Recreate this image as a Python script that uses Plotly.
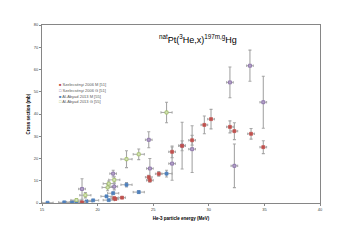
import plotly.graph_objects as go

# Szel. 2006 M [51]
szel_m_x = [18.6, 21.5, 21.6, 22.2, 24.6, 24.7, 25.5, 26.7, 27.6, 28.5, 29.6, 30.2, 31.9, 32.3, 33.8, 34.9]
szel_m_y = [0.3, 2.2, 1.8, 2.4, 11.6, 10.2, 13.1, 23.0, 25.7, 28.2, 35.1, 37.7, 34.2, 32.3, 31.1, 25.1]
szel_m_err = [0.2, 0.4, 0.3, 0.4, 0.9, 0.8, 1.0, 2.6, 2.2, 2.2, 4.0, 4.4, 2.7, 3.8, 2.4, 2.9]
szel_m_xerr = [0.3] * len(szel_m_x)

# Szel. 2006 G [51]
szel_g_x = [18.6, 21.4, 21.5, 24.6, 24.7, 26.7, 27.6, 28.5, 31.9, 32.3, 33.7, 34.9]
szel_g_y = [6.3, 13.2, 7.4, 28.4, 15.5, 17.7, 25.8, 24.2, 54.2, 16.7, 61.7, 45.3]
szel_g_err = [4.6, 1.5, 1.5, 3.6, 4.5, 7.5, 10.5, 10.5, 6.9, 9.8, 7.0, 11.7]
szel_g_xerr = [0.3] * len(szel_g_x)

# Al-Abyad 2013 M [55]
al_m_x = [15.5, 17.0, 17.7, 18.1, 19.0, 19.6, 21.0, 20.8, 21.4, 22.6, 23.7, 26.2]
al_m_y = [0.1, 0.3, 0.4, 0.5, 0.7, 1.2, 1.3, 3.0, 4.4, 8.2, 4.9, 13.2]
al_m_err = [0.05, 0.1, 0.1, 0.1, 0.1, 0.2, 0.3, 0.4, 0.5, 1.0, 0.6, 1.5]
al_m_xerr = [0.5] * len(al_m_x)

# Al-Abyad 2013 G [55]
al_g_x = [18.1, 18.9, 20.9, 21.0, 21.5, 22.6, 23.7, 26.2]
al_g_y = [1.3, 3.5, 7.0, 8.7, 10.4, 19.7, 21.9, 40.7]
al_g_err = [0.6, 1.2, 1.5, 1.2, 1.4, 3.8, 2.4, 4.6]
al_g_xerr = [0.5] * len(al_g_x)

series_names = ["Szelecsényi 2006 M [51]", "Szelecsényi 2006 G [51]",
                "Al-Abyad 2013 M [55]", "Al-Abyad 2013 G [55]"]
x_ticks = [15, 20, 25, 30, 35, 40]
y_ticks = [0, 10, 20, 30, 40, 50, 60, 70, 80]

ERR = "#a6a6a6"
FONT = "Liberation Sans"

def trace(x, y, ey, ex, name, fill, line):
    return go.Scatter(
        x=x, y=y, mode="markers", name=name, showlegend=False,
        marker=dict(symbol="square", size=3, color=fill, line=dict(color=line, width=0.7)),
        error_y=dict(type="data", array=ey, color=ERR, thickness=1.1, width=1.5),
        error_x=dict(type="data", array=ex, color=ERR, thickness=1.0, width=1.2),
    )

fig = go.Figure()
fig.add_trace(trace(al_m_x, al_m_y, al_m_err, al_m_xerr, series_names[2], "#4F81BD", "#4F81BD"))
fig.add_trace(trace(al_g_x, al_g_y, al_g_err, al_g_xerr, series_names[3], "#D7E4BD", "#9BBB59"))
fig.add_trace(trace(szel_g_x, szel_g_y, szel_g_err, szel_g_xerr, series_names[1], "#B3A2C7", "#8064A2"))
fig.add_trace(trace(szel_m_x, szel_m_y, szel_m_err, szel_m_xerr, series_names[0], "#C0504D", "#C0504D"))

axis_common = dict(showgrid=False, zeroline=False, showline=True, linecolor="#868686",
                   linewidth=1, mirror=True, ticks="outside", ticklen=2, tickcolor="#868686",
                   tickfont=dict(family=FONT, size=4, color="#404040"))
fig.update_xaxes(range=[15, 40], tickvals=x_ticks, ticktext=[str(v) for v in x_ticks],
                 title=dict(text="<b>He-3 particle energy (MeV)</b>", standoff=6,
                            font=dict(family=FONT, size=4.5, color="#000000")),
                 **axis_common)
fig.update_yaxes(range=[0, 80], tickvals=y_ticks, ticktext=[str(v) for v in y_ticks],
                 title=dict(text="<b>Cross section (mb)</b>", standoff=3,
                            font=dict(family=FONT, size=4.5, color="#000000")),
                 **axis_common)

# legend drawn as text
legend_colors = ["#C0504D", "#8064A2", "#4F81BD", "#9BBB59"]
legend_syms = ["■", "□", "■", "□"]
legend_y = [0.663, 0.632, 0.601, 0.570]
for nm, c, s, yy in zip(series_names, legend_colors, legend_syms, legend_y):
    fig.add_annotation(xref="paper", yref="paper", x=0.055, y=yy, xanchor="left", yanchor="middle",
                       showarrow=False,
                       text=f"<span style='color:{c}'>{s}</span> {nm}",
                       font=dict(family=FONT, size=4, color="#595959"))

fig.update_layout(
    title=dict(text="<sup>nat</sup>Pt(<sup>3</sup>He,x)<sup>197m,g</sup>Hg",
               xref="paper", x=0.561, xanchor="center",
               yref="paper", y=0.916, yanchor="middle",
               font=dict(family=FONT, size=9, color="#000000")),
    width=343, height=240, margin=dict(l=34, r=31, t=17, b=45),
    paper_bgcolor="white", plot_bgcolor="white", showlegend=False)

fig.write_html("out.html")
